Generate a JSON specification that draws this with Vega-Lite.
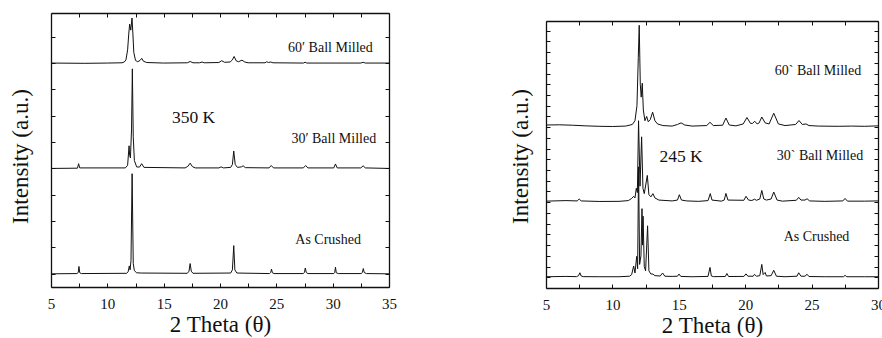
{
  "$schema": "https://vega.github.io/schema/vega-lite/v6.json",
  "padding": {"left": 9, "top": 12, "right": 0, "bottom": 0},
  "spacing": 112,
  "config": {
    "font": "Liberation Serif",
    "view": {"stroke": null},
    "axis": {
      "grid": false,
      "domainColor": "#111",
      "domainWidth": 1.3,
      "tickColor": "#111",
      "tickWidth": 1,
      "tickSize": -4,
      "labelFont": "Liberation Serif",
      "labelFontSize": 15,
      "labelColor": "#111",
      "labelFlush": false,
      "labelOverlap": false,
      "titleFont": "Liberation Serif",
      "titleFontSize": 23,
      "titleFontWeight": "normal",
      "titleColor": "#111"
    }
  },
  "datasets": {
    "xrd350": [
      {"sample": "As Crushed", "theta": 5.0, "intensity": 0.0},
      {"sample": "As Crushed", "theta": 7.3, "intensity": 0.01},
      {"sample": "As Crushed", "theta": 7.42, "intensity": 0.05},
      {"sample": "As Crushed", "theta": 7.48, "intensity": 0.28},
      {"sample": "As Crushed", "theta": 7.55, "intensity": 0.04},
      {"sample": "As Crushed", "theta": 7.7, "intensity": 0.01},
      {"sample": "As Crushed", "theta": 11.7, "intensity": 0.02},
      {"sample": "As Crushed", "theta": 11.85, "intensity": 0.08},
      {"sample": "As Crushed", "theta": 11.95, "intensity": 0.3},
      {"sample": "As Crushed", "theta": 12.02, "intensity": 0.15},
      {"sample": "As Crushed", "theta": 12.1, "intensity": 0.5},
      {"sample": "As Crushed", "theta": 12.2, "intensity": 3.8},
      {"sample": "As Crushed", "theta": 12.3, "intensity": 0.4},
      {"sample": "As Crushed", "theta": 12.4, "intensity": 0.12},
      {"sample": "As Crushed", "theta": 12.6, "intensity": 0.04},
      {"sample": "As Crushed", "theta": 13.0, "intensity": 0.03},
      {"sample": "As Crushed", "theta": 17.1, "intensity": 0.02},
      {"sample": "As Crushed", "theta": 17.25, "intensity": 0.1},
      {"sample": "As Crushed", "theta": 17.35, "intensity": 0.39},
      {"sample": "As Crushed", "theta": 17.45, "intensity": 0.1},
      {"sample": "As Crushed", "theta": 17.6, "intensity": 0.02},
      {"sample": "As Crushed", "theta": 20.95, "intensity": 0.03},
      {"sample": "As Crushed", "theta": 21.1, "intensity": 0.15},
      {"sample": "As Crushed", "theta": 21.22, "intensity": 1.07},
      {"sample": "As Crushed", "theta": 21.32, "intensity": 0.15},
      {"sample": "As Crushed", "theta": 21.5, "intensity": 0.03},
      {"sample": "As Crushed", "theta": 24.4, "intensity": 0.01},
      {"sample": "As Crushed", "theta": 24.5, "intensity": 0.05},
      {"sample": "As Crushed", "theta": 24.57, "intensity": 0.18},
      {"sample": "As Crushed", "theta": 24.65, "intensity": 0.04},
      {"sample": "As Crushed", "theta": 24.8, "intensity": 0.01},
      {"sample": "As Crushed", "theta": 27.4, "intensity": 0.01},
      {"sample": "As Crushed", "theta": 27.5, "intensity": 0.06},
      {"sample": "As Crushed", "theta": 27.57, "intensity": 0.22},
      {"sample": "As Crushed", "theta": 27.66, "intensity": 0.05},
      {"sample": "As Crushed", "theta": 27.8, "intensity": 0.01},
      {"sample": "As Crushed", "theta": 30.1, "intensity": 0.01},
      {"sample": "As Crushed", "theta": 30.18, "intensity": 0.05},
      {"sample": "As Crushed", "theta": 30.25, "intensity": 0.25},
      {"sample": "As Crushed", "theta": 30.32, "intensity": 0.04},
      {"sample": "As Crushed", "theta": 30.5, "intensity": 0.01},
      {"sample": "As Crushed", "theta": 32.55, "intensity": 0.01},
      {"sample": "As Crushed", "theta": 32.64, "intensity": 0.06},
      {"sample": "As Crushed", "theta": 32.72, "intensity": 0.2},
      {"sample": "As Crushed", "theta": 32.8, "intensity": 0.05},
      {"sample": "As Crushed", "theta": 33.0, "intensity": 0.01},
      {"sample": "As Crushed", "theta": 35.0, "intensity": 0.0},

      {"sample": "30′ Ball Milled", "theta": 5.0, "intensity": 4.0},
      {"sample": "30′ Ball Milled", "theta": 7.35, "intensity": 4.01},
      {"sample": "30′ Ball Milled", "theta": 7.45, "intensity": 4.18},
      {"sample": "30′ Ball Milled", "theta": 7.55, "intensity": 4.02},
      {"sample": "30′ Ball Milled", "theta": 11.6, "intensity": 4.02},
      {"sample": "30′ Ball Milled", "theta": 11.8, "intensity": 4.12},
      {"sample": "30′ Ball Milled", "theta": 11.93, "intensity": 4.86},
      {"sample": "30′ Ball Milled", "theta": 11.98, "intensity": 4.5},
      {"sample": "30′ Ball Milled", "theta": 12.05, "intensity": 4.4},
      {"sample": "30′ Ball Milled", "theta": 12.15, "intensity": 5.5},
      {"sample": "30′ Ball Milled", "theta": 12.22, "intensity": 7.78},
      {"sample": "30′ Ball Milled", "theta": 12.3, "intensity": 5.2},
      {"sample": "30′ Ball Milled", "theta": 12.4, "intensity": 4.3},
      {"sample": "30′ Ball Milled", "theta": 12.6, "intensity": 4.06},
      {"sample": "30′ Ball Milled", "theta": 12.85, "intensity": 4.05},
      {"sample": "30′ Ball Milled", "theta": 13.05, "intensity": 4.18},
      {"sample": "30′ Ball Milled", "theta": 13.25, "intensity": 4.04},
      {"sample": "30′ Ball Milled", "theta": 16.9, "intensity": 4.02},
      {"sample": "30′ Ball Milled", "theta": 17.15, "intensity": 4.08},
      {"sample": "30′ Ball Milled", "theta": 17.35, "intensity": 4.2},
      {"sample": "30′ Ball Milled", "theta": 17.55, "intensity": 4.07},
      {"sample": "30′ Ball Milled", "theta": 17.8, "intensity": 4.02},
      {"sample": "30′ Ball Milled", "theta": 19.9, "intensity": 4.02},
      {"sample": "30′ Ball Milled", "theta": 20.1, "intensity": 4.06},
      {"sample": "30′ Ball Milled", "theta": 20.3, "intensity": 4.02},
      {"sample": "30′ Ball Milled", "theta": 20.95, "intensity": 4.04},
      {"sample": "30′ Ball Milled", "theta": 21.1, "intensity": 4.15},
      {"sample": "30′ Ball Milled", "theta": 21.22, "intensity": 4.66},
      {"sample": "30′ Ball Milled", "theta": 21.35, "intensity": 4.15},
      {"sample": "30′ Ball Milled", "theta": 21.55, "intensity": 4.04},
      {"sample": "30′ Ball Milled", "theta": 21.9, "intensity": 4.06},
      {"sample": "30′ Ball Milled", "theta": 22.05, "intensity": 4.1},
      {"sample": "30′ Ball Milled", "theta": 22.25, "intensity": 4.03},
      {"sample": "30′ Ball Milled", "theta": 24.35, "intensity": 4.02},
      {"sample": "30′ Ball Milled", "theta": 24.55, "intensity": 4.11},
      {"sample": "30′ Ball Milled", "theta": 24.75, "intensity": 4.02},
      {"sample": "30′ Ball Milled", "theta": 27.4, "intensity": 4.02},
      {"sample": "30′ Ball Milled", "theta": 27.6, "intensity": 4.11},
      {"sample": "30′ Ball Milled", "theta": 27.8, "intensity": 4.02},
      {"sample": "30′ Ball Milled", "theta": 30.1, "intensity": 4.02},
      {"sample": "30′ Ball Milled", "theta": 30.25, "intensity": 4.17},
      {"sample": "30′ Ball Milled", "theta": 30.4, "intensity": 4.02},
      {"sample": "30′ Ball Milled", "theta": 32.5, "intensity": 4.02},
      {"sample": "30′ Ball Milled", "theta": 32.7, "intensity": 4.1},
      {"sample": "30′ Ball Milled", "theta": 32.9, "intensity": 4.02},
      {"sample": "30′ Ball Milled", "theta": 35.0, "intensity": 4.0},

      {"sample": "60′ Ball Milled", "theta": 5.0, "intensity": 8.0},
      {"sample": "60′ Ball Milled", "theta": 8.0, "intensity": 7.99},
      {"sample": "60′ Ball Milled", "theta": 10.0, "intensity": 8.0},
      {"sample": "60′ Ball Milled", "theta": 11.3, "intensity": 8.01},
      {"sample": "60′ Ball Milled", "theta": 11.5, "intensity": 8.04},
      {"sample": "60′ Ball Milled", "theta": 11.65, "intensity": 8.12},
      {"sample": "60′ Ball Milled", "theta": 11.8, "intensity": 8.5},
      {"sample": "60′ Ball Milled", "theta": 11.9, "intensity": 9.1},
      {"sample": "60′ Ball Milled", "theta": 11.98, "intensity": 9.48},
      {"sample": "60′ Ball Milled", "theta": 12.08, "intensity": 9.25},
      {"sample": "60′ Ball Milled", "theta": 12.19, "intensity": 9.71},
      {"sample": "60′ Ball Milled", "theta": 12.27, "intensity": 9.1},
      {"sample": "60′ Ball Milled", "theta": 12.35, "intensity": 8.4},
      {"sample": "60′ Ball Milled", "theta": 12.5, "intensity": 8.1},
      {"sample": "60′ Ball Milled", "theta": 12.7, "intensity": 8.05},
      {"sample": "60′ Ball Milled", "theta": 12.9, "intensity": 8.1},
      {"sample": "60′ Ball Milled", "theta": 13.05, "intensity": 8.18},
      {"sample": "60′ Ball Milled", "theta": 13.2, "intensity": 8.07},
      {"sample": "60′ Ball Milled", "theta": 13.5, "intensity": 8.02},
      {"sample": "60′ Ball Milled", "theta": 15.0, "intensity": 8.0},
      {"sample": "60′ Ball Milled", "theta": 17.1, "intensity": 8.01},
      {"sample": "60′ Ball Milled", "theta": 17.35, "intensity": 8.06},
      {"sample": "60′ Ball Milled", "theta": 17.6, "intensity": 8.01},
      {"sample": "60′ Ball Milled", "theta": 18.2, "intensity": 8.01},
      {"sample": "60′ Ball Milled", "theta": 18.4, "intensity": 8.04},
      {"sample": "60′ Ball Milled", "theta": 18.6, "intensity": 8.01},
      {"sample": "60′ Ball Milled", "theta": 19.9, "intensity": 8.02},
      {"sample": "60′ Ball Milled", "theta": 20.15, "intensity": 8.09},
      {"sample": "60′ Ball Milled", "theta": 20.4, "intensity": 8.03},
      {"sample": "60′ Ball Milled", "theta": 20.9, "intensity": 8.04},
      {"sample": "60′ Ball Milled", "theta": 21.1, "intensity": 8.12},
      {"sample": "60′ Ball Milled", "theta": 21.25, "intensity": 8.25},
      {"sample": "60′ Ball Milled", "theta": 21.45, "intensity": 8.08},
      {"sample": "60′ Ball Milled", "theta": 21.65, "intensity": 8.05},
      {"sample": "60′ Ball Milled", "theta": 21.95, "intensity": 8.11},
      {"sample": "60′ Ball Milled", "theta": 22.2, "intensity": 8.04},
      {"sample": "60′ Ball Milled", "theta": 22.5, "intensity": 8.01},
      {"sample": "60′ Ball Milled", "theta": 24.0, "intensity": 8.01},
      {"sample": "60′ Ball Milled", "theta": 24.15, "intensity": 8.05},
      {"sample": "60′ Ball Milled", "theta": 24.3, "intensity": 8.02},
      {"sample": "60′ Ball Milled", "theta": 24.5, "intensity": 8.04},
      {"sample": "60′ Ball Milled", "theta": 24.7, "intensity": 8.01},
      {"sample": "60′ Ball Milled", "theta": 27.4, "intensity": 8.0},
      {"sample": "60′ Ball Milled", "theta": 27.55, "intensity": 8.03},
      {"sample": "60′ Ball Milled", "theta": 27.7, "intensity": 8.0},
      {"sample": "60′ Ball Milled", "theta": 32.5, "intensity": 8.0},
      {"sample": "60′ Ball Milled", "theta": 32.7, "intensity": 8.03},
      {"sample": "60′ Ball Milled", "theta": 32.9, "intensity": 8.0},
      {"sample": "60′ Ball Milled", "theta": 35.0, "intensity": 8.0}
    ],
    "xrd245": [
      {"sample": "As Crushed", "theta": 5.0, "intensity": 0.05},
      {"sample": "As Crushed", "theta": 6.5, "intensity": 0.08},
      {"sample": "As Crushed", "theta": 7.3, "intensity": 0.06},
      {"sample": "As Crushed", "theta": 7.45, "intensity": 0.15},
      {"sample": "As Crushed", "theta": 7.55, "intensity": 0.42},
      {"sample": "As Crushed", "theta": 7.65, "intensity": 0.12},
      {"sample": "As Crushed", "theta": 7.8, "intensity": 0.06},
      {"sample": "As Crushed", "theta": 9.0, "intensity": 0.05},
      {"sample": "As Crushed", "theta": 10.5, "intensity": 0.05},
      {"sample": "As Crushed", "theta": 11.3, "intensity": 0.1},
      {"sample": "As Crushed", "theta": 11.45, "intensity": 0.25},
      {"sample": "As Crushed", "theta": 11.6, "intensity": 1.05},
      {"sample": "As Crushed", "theta": 11.7, "intensity": 0.4},
      {"sample": "As Crushed", "theta": 11.83, "intensity": 1.95},
      {"sample": "As Crushed", "theta": 11.9, "intensity": 0.8},
      {"sample": "As Crushed", "theta": 11.97, "intensity": 10.3},
      {"sample": "As Crushed", "theta": 12.05, "intensity": 1.2},
      {"sample": "As Crushed", "theta": 12.15, "intensity": 2.0},
      {"sample": "As Crushed", "theta": 12.23, "intensity": 6.4},
      {"sample": "As Crushed", "theta": 12.27, "intensity": 3.0},
      {"sample": "As Crushed", "theta": 12.31, "intensity": 5.7},
      {"sample": "As Crushed", "theta": 12.4, "intensity": 1.0},
      {"sample": "As Crushed", "theta": 12.5, "intensity": 0.6},
      {"sample": "As Crushed", "theta": 12.65, "intensity": 4.8},
      {"sample": "As Crushed", "theta": 12.75, "intensity": 0.6},
      {"sample": "As Crushed", "theta": 12.9, "intensity": 0.3},
      {"sample": "As Crushed", "theta": 13.05, "intensity": 0.3},
      {"sample": "As Crushed", "theta": 13.2, "intensity": 0.15},
      {"sample": "As Crushed", "theta": 13.6, "intensity": 0.12},
      {"sample": "As Crushed", "theta": 13.78, "intensity": 0.4},
      {"sample": "As Crushed", "theta": 13.95, "intensity": 0.1},
      {"sample": "As Crushed", "theta": 14.5, "intensity": 0.08},
      {"sample": "As Crushed", "theta": 14.9, "intensity": 0.1},
      {"sample": "As Crushed", "theta": 15.02, "intensity": 0.3},
      {"sample": "As Crushed", "theta": 15.15, "intensity": 0.08},
      {"sample": "As Crushed", "theta": 16.0, "intensity": 0.05},
      {"sample": "As Crushed", "theta": 17.2, "intensity": 0.08},
      {"sample": "As Crushed", "theta": 17.35, "intensity": 0.92},
      {"sample": "As Crushed", "theta": 17.45, "intensity": 0.12},
      {"sample": "As Crushed", "theta": 17.6, "intensity": 0.06},
      {"sample": "As Crushed", "theta": 18.5, "intensity": 0.07},
      {"sample": "As Crushed", "theta": 18.62, "intensity": 0.35},
      {"sample": "As Crushed", "theta": 18.75, "intensity": 0.07},
      {"sample": "As Crushed", "theta": 19.9, "intensity": 0.08},
      {"sample": "As Crushed", "theta": 20.06, "intensity": 0.32},
      {"sample": "As Crushed", "theta": 20.2, "intensity": 0.1},
      {"sample": "As Crushed", "theta": 20.6, "intensity": 0.1},
      {"sample": "As Crushed", "theta": 20.7, "intensity": 0.27},
      {"sample": "As Crushed", "theta": 20.85, "intensity": 0.1},
      {"sample": "As Crushed", "theta": 21.1, "intensity": 0.15},
      {"sample": "As Crushed", "theta": 21.25, "intensity": 1.2},
      {"sample": "As Crushed", "theta": 21.35, "intensity": 0.25},
      {"sample": "As Crushed", "theta": 21.5, "intensity": 0.45},
      {"sample": "As Crushed", "theta": 21.6, "intensity": 0.12},
      {"sample": "As Crushed", "theta": 21.95, "intensity": 0.15},
      {"sample": "As Crushed", "theta": 22.15, "intensity": 0.65},
      {"sample": "As Crushed", "theta": 22.35, "intensity": 0.1},
      {"sample": "As Crushed", "theta": 23.0, "intensity": 0.05},
      {"sample": "As Crushed", "theta": 23.9, "intensity": 0.1},
      {"sample": "As Crushed", "theta": 24.03, "intensity": 0.42},
      {"sample": "As Crushed", "theta": 24.2, "intensity": 0.1},
      {"sample": "As Crushed", "theta": 24.5, "intensity": 0.1},
      {"sample": "As Crushed", "theta": 24.66, "intensity": 0.28},
      {"sample": "As Crushed", "theta": 24.8, "intensity": 0.07},
      {"sample": "As Crushed", "theta": 26.0, "intensity": 0.05},
      {"sample": "As Crushed", "theta": 27.4, "intensity": 0.05},
      {"sample": "As Crushed", "theta": 27.52, "intensity": 0.18},
      {"sample": "As Crushed", "theta": 27.65, "intensity": 0.05},
      {"sample": "As Crushed", "theta": 29.0, "intensity": 0.05},
      {"sample": "As Crushed", "theta": 30.0, "intensity": 0.05},

      {"sample": "30` Ball Milled", "theta": 5.0, "intensity": 7.1},
      {"sample": "30` Ball Milled", "theta": 6.5, "intensity": 7.15},
      {"sample": "30` Ball Milled", "theta": 7.35, "intensity": 7.12},
      {"sample": "30` Ball Milled", "theta": 7.5, "intensity": 7.3},
      {"sample": "30` Ball Milled", "theta": 7.65, "intensity": 7.12},
      {"sample": "30` Ball Milled", "theta": 9.0, "intensity": 7.07},
      {"sample": "30` Ball Milled", "theta": 10.5, "intensity": 7.08},
      {"sample": "30` Ball Milled", "theta": 11.2, "intensity": 7.15},
      {"sample": "30` Ball Milled", "theta": 11.45, "intensity": 7.35},
      {"sample": "30` Ball Milled", "theta": 11.6, "intensity": 7.55},
      {"sample": "30` Ball Milled", "theta": 11.7, "intensity": 7.4},
      {"sample": "30` Ball Milled", "theta": 11.8, "intensity": 8.3},
      {"sample": "30` Ball Milled", "theta": 11.88, "intensity": 7.9},
      {"sample": "30` Ball Milled", "theta": 11.97, "intensity": 14.6},
      {"sample": "30` Ball Milled", "theta": 12.08, "intensity": 8.5},
      {"sample": "30` Ball Milled", "theta": 12.2, "intensity": 13.1},
      {"sample": "30` Ball Milled", "theta": 12.3, "intensity": 8.3},
      {"sample": "30` Ball Milled", "theta": 12.4, "intensity": 7.8},
      {"sample": "30` Ball Milled", "theta": 12.63, "intensity": 9.5},
      {"sample": "30` Ball Milled", "theta": 12.75, "intensity": 7.7},
      {"sample": "30` Ball Milled", "theta": 12.9, "intensity": 7.5},
      {"sample": "30` Ball Milled", "theta": 13.05, "intensity": 7.8},
      {"sample": "30` Ball Milled", "theta": 13.2, "intensity": 7.4},
      {"sample": "30` Ball Milled", "theta": 13.5, "intensity": 7.2},
      {"sample": "30` Ball Milled", "theta": 14.5, "intensity": 7.12},
      {"sample": "30` Ball Milled", "theta": 14.9, "intensity": 7.2},
      {"sample": "30` Ball Milled", "theta": 15.04, "intensity": 7.7},
      {"sample": "30` Ball Milled", "theta": 15.2, "intensity": 7.2},
      {"sample": "30` Ball Milled", "theta": 15.6, "intensity": 7.12},
      {"sample": "30` Ball Milled", "theta": 16.5, "intensity": 7.08},
      {"sample": "30` Ball Milled", "theta": 17.2, "intensity": 7.15},
      {"sample": "30` Ball Milled", "theta": 17.37, "intensity": 7.8},
      {"sample": "30` Ball Milled", "theta": 17.5, "intensity": 7.2},
      {"sample": "30` Ball Milled", "theta": 18.2, "intensity": 7.1},
      {"sample": "30` Ball Milled", "theta": 18.42, "intensity": 7.2},
      {"sample": "30` Ball Milled", "theta": 18.55, "intensity": 7.82},
      {"sample": "30` Ball Milled", "theta": 18.7, "intensity": 7.2},
      {"sample": "30` Ball Milled", "theta": 19.9, "intensity": 7.18},
      {"sample": "30` Ball Milled", "theta": 20.06, "intensity": 7.55},
      {"sample": "30` Ball Milled", "theta": 20.25, "intensity": 7.2},
      {"sample": "30` Ball Milled", "theta": 20.5, "intensity": 7.16},
      {"sample": "30` Ball Milled", "theta": 20.7, "intensity": 7.28},
      {"sample": "30` Ball Milled", "theta": 20.85, "intensity": 7.18},
      {"sample": "30` Ball Milled", "theta": 21.1, "intensity": 7.3},
      {"sample": "30` Ball Milled", "theta": 21.25, "intensity": 8.1},
      {"sample": "30` Ball Milled", "theta": 21.4, "intensity": 7.3},
      {"sample": "30` Ball Milled", "theta": 21.6, "intensity": 7.2},
      {"sample": "30` Ball Milled", "theta": 21.95, "intensity": 7.3},
      {"sample": "30` Ball Milled", "theta": 22.15, "intensity": 7.95},
      {"sample": "30` Ball Milled", "theta": 22.4, "intensity": 7.2},
      {"sample": "30` Ball Milled", "theta": 22.8, "intensity": 7.1},
      {"sample": "30` Ball Milled", "theta": 23.85, "intensity": 7.18},
      {"sample": "30` Ball Milled", "theta": 24.03, "intensity": 7.45},
      {"sample": "30` Ball Milled", "theta": 24.2, "intensity": 7.2},
      {"sample": "30` Ball Milled", "theta": 24.5, "intensity": 7.2},
      {"sample": "30` Ball Milled", "theta": 24.66, "intensity": 7.32},
      {"sample": "30` Ball Milled", "theta": 24.85, "intensity": 7.12},
      {"sample": "30` Ball Milled", "theta": 26.0, "intensity": 7.08},
      {"sample": "30` Ball Milled", "theta": 27.35, "intensity": 7.12},
      {"sample": "30` Ball Milled", "theta": 27.52, "intensity": 7.35},
      {"sample": "30` Ball Milled", "theta": 27.7, "intensity": 7.1},
      {"sample": "30` Ball Milled", "theta": 29.0, "intensity": 7.1},
      {"sample": "30` Ball Milled", "theta": 30.0, "intensity": 7.12},

      {"sample": "60` Ball Milled", "theta": 5.0, "intensity": 14.2},
      {"sample": "60` Ball Milled", "theta": 6.0, "intensity": 14.22},
      {"sample": "60` Ball Milled", "theta": 7.0, "intensity": 14.18},
      {"sample": "60` Ball Milled", "theta": 8.0, "intensity": 14.12},
      {"sample": "60` Ball Milled", "theta": 9.0, "intensity": 14.08},
      {"sample": "60` Ball Milled", "theta": 10.0, "intensity": 14.06},
      {"sample": "60` Ball Milled", "theta": 11.0, "intensity": 14.1},
      {"sample": "60` Ball Milled", "theta": 11.5, "intensity": 14.25},
      {"sample": "60` Ball Milled", "theta": 11.7, "intensity": 14.6},
      {"sample": "60` Ball Milled", "theta": 11.85, "intensity": 16.0},
      {"sample": "60` Ball Milled", "theta": 11.95, "intensity": 20.5},
      {"sample": "60` Ball Milled", "theta": 12.02, "intensity": 23.5},
      {"sample": "60` Ball Milled", "theta": 12.1, "intensity": 18.0},
      {"sample": "60` Ball Milled", "theta": 12.17, "intensity": 16.8},
      {"sample": "60` Ball Milled", "theta": 12.25, "intensity": 18.1},
      {"sample": "60` Ball Milled", "theta": 12.33, "intensity": 15.6},
      {"sample": "60` Ball Milled", "theta": 12.45, "intensity": 14.6},
      {"sample": "60` Ball Milled", "theta": 12.58, "intensity": 15.0},
      {"sample": "60` Ball Milled", "theta": 12.7, "intensity": 14.5},
      {"sample": "60` Ball Milled", "theta": 12.85, "intensity": 14.7},
      {"sample": "60` Ball Milled", "theta": 13.03, "intensity": 15.4},
      {"sample": "60` Ball Milled", "theta": 13.2, "intensity": 14.6},
      {"sample": "60` Ball Milled", "theta": 13.4, "intensity": 14.3},
      {"sample": "60` Ball Milled", "theta": 13.8, "intensity": 14.15},
      {"sample": "60` Ball Milled", "theta": 14.5, "intensity": 14.1},
      {"sample": "60` Ball Milled", "theta": 14.9, "intensity": 14.25},
      {"sample": "60` Ball Milled", "theta": 15.17, "intensity": 14.4},
      {"sample": "60` Ball Milled", "theta": 15.45, "intensity": 14.2},
      {"sample": "60` Ball Milled", "theta": 16.0, "intensity": 14.1},
      {"sample": "60` Ball Milled", "theta": 17.1, "intensity": 14.15},
      {"sample": "60` Ball Milled", "theta": 17.35, "intensity": 14.45},
      {"sample": "60` Ball Milled", "theta": 17.6, "intensity": 14.15},
      {"sample": "60` Ball Milled", "theta": 18.3, "intensity": 14.18},
      {"sample": "60` Ball Milled", "theta": 18.55, "intensity": 14.85},
      {"sample": "60` Ball Milled", "theta": 18.8, "intensity": 14.2},
      {"sample": "60` Ball Milled", "theta": 19.3, "intensity": 14.12},
      {"sample": "60` Ball Milled", "theta": 19.85, "intensity": 14.3},
      {"sample": "60` Ball Milled", "theta": 20.13, "intensity": 14.9},
      {"sample": "60` Ball Milled", "theta": 20.4, "intensity": 14.35},
      {"sample": "60` Ball Milled", "theta": 20.55, "intensity": 14.35},
      {"sample": "60` Ball Milled", "theta": 20.72, "intensity": 14.55},
      {"sample": "60` Ball Milled", "theta": 20.9, "intensity": 14.3},
      {"sample": "60` Ball Milled", "theta": 21.05, "intensity": 14.4},
      {"sample": "60` Ball Milled", "theta": 21.25, "intensity": 14.95},
      {"sample": "60` Ball Milled", "theta": 21.5, "intensity": 14.4},
      {"sample": "60` Ball Milled", "theta": 21.8, "intensity": 14.3},
      {"sample": "60` Ball Milled", "theta": 22.15, "intensity": 15.3},
      {"sample": "60` Ball Milled", "theta": 22.5, "intensity": 14.3},
      {"sample": "60` Ball Milled", "theta": 23.0, "intensity": 14.15},
      {"sample": "60` Ball Milled", "theta": 23.8, "intensity": 14.25},
      {"sample": "60` Ball Milled", "theta": 24.05, "intensity": 14.62},
      {"sample": "60` Ball Milled", "theta": 24.3, "intensity": 14.25},
      {"sample": "60` Ball Milled", "theta": 24.58, "intensity": 14.3},
      {"sample": "60` Ball Milled", "theta": 24.8, "intensity": 14.15},
      {"sample": "60` Ball Milled", "theta": 25.5, "intensity": 14.1},
      {"sample": "60` Ball Milled", "theta": 27.0, "intensity": 14.08},
      {"sample": "60` Ball Milled", "theta": 28.0, "intensity": 14.1},
      {"sample": "60` Ball Milled", "theta": 29.0, "intensity": 14.08},
      {"sample": "60` Ball Milled", "theta": 30.0, "intensity": 14.12}
    ],
    "names350": [
      {"theta": 29.8, "intensity": 8.59, "label": "60′ Ball Milled"},
      {"theta": 30.1, "intensity": 5.11, "label": "30′ Ball Milled"},
      {"theta": 29.6, "intensity": 1.27, "label": "As Crushed"}
    ],
    "names245": [
      {"theta": 25.48, "intensity": 19.2, "label": "60` Ball Milled"},
      {"theta": 25.63, "intensity": 11.3, "label": "30` Ball Milled"},
      {"theta": 25.37, "intensity": 3.72, "label": "As Crushed"}
    ]
  },
  "hconcat": [
    {
      "width": 338,
      "height": 274,
      "data": {"name": "xrd350"},
      "layer": [
        {
          "mark": {"type": "line", "color": "#111", "strokeWidth": 1, "clip": true},
          "encoding": {
            "x": {
              "field": "theta", "type": "quantitative",
              "scale": {"domain": [5, 35], "nice": false, "zero": false},
              "axis": {
                "orient": "bottom", "title": "2 Theta (θ)",
                "values": [5, 7.5, 10, 12.5, 15, 17.5, 20, 22.5, 25, 27.5, 30, 32.5, 35],
                "labelExpr": "datum.value % 5 === 0 ? datum.label : ''",
                "labelPadding": 13, "titlePadding": 2
              }
            },
            "y": {
              "field": "intensity", "type": "quantitative",
              "scale": {"domain": [-0.5, 9.9], "nice": false, "zero": false},
              "axis": {
                "orient": "left", "title": "Intensity (a.u.)", "labels": false,
                "values": [0, 1, 2, 3, 4, 5, 6, 7, 8, 9],
                "titlePadding": 18, "titleY": 143
              }
            },
            "detail": {"field": "sample"}
          }
        },
        {
          "data": {"name": "names350"},
          "mark": {"type": "text", "fontSize": 14, "color": "#111", "align": "center", "baseline": "middle"},
          "encoding": {
            "x": {
              "field": "theta", "type": "quantitative",
              "axis": {
                "orient": "top", "title": null, "labels": false,
                "values": [5, 7.5, 10, 12.5, 15, 17.5, 20, 22.5, 25, 27.5, 30, 32.5, 35]
              }
            },
            "y": {
              "field": "intensity", "type": "quantitative",
              "axis": {"orient": "right", "title": null, "labels": false, "values": [0, 1, 2, 3, 4, 5, 6, 7, 8, 9]}
            },
            "text": {"field": "label"}
          }
        },
        {
          "data": {"values": [{"theta": 17.65, "intensity": 5.91, "label": "350 K"}]},
          "mark": {"type": "text", "fontSize": 17.5, "color": "#111", "align": "center", "baseline": "middle"},
          "encoding": {
            "x": {"field": "theta", "type": "quantitative", "axis": null},
            "y": {"field": "intensity", "type": "quantitative", "axis": null},
            "text": {"field": "label"}
          }
        }
      ],
      "resolve": {"axis": {"x": "independent", "y": "independent"}}
    },
    {
      "width": 332,
      "height": 275,
      "data": {"name": "xrd245"},
      "layer": [
        {
          "mark": {"type": "line", "color": "#111", "strokeWidth": 1, "clip": true},
          "encoding": {
            "x": {
              "field": "theta", "type": "quantitative",
              "scale": {"domain": [5, 30], "nice": false, "zero": false},
              "axis": {
                "orient": "bottom", "title": "2 Theta (θ)",
                "values": [5, 7.5, 10, 12.5, 15, 17.5, 20, 22.5, 25, 27.5, 30],
                "labelExpr": "datum.value % 5 === 0 ? datum.label : ''",
                "labelPadding": 13, "titlePadding": 2
              }
            },
            "y": {
              "field": "intensity", "type": "quantitative",
              "scale": {"domain": [-1.0, 23.9], "nice": false, "zero": false, "range": [275, 8]},
              "axis": {
                "orient": "left", "title": "Intensity (a.u.)", "labels": false,
                "values": [0, 1, 2, 3, 4, 5, 6, 7, 8, 9, 10, 11, 12, 13, 14, 15, 16, 17, 18, 19, 20, 21, 22, 23],
                "titlePadding": 13, "titleY": 143
              }
            },
            "detail": {"field": "sample"}
          }
        },
        {
          "data": {"name": "names245"},
          "mark": {"type": "text", "fontSize": 14, "color": "#111", "align": "center", "baseline": "middle"},
          "encoding": {
            "x": {
              "field": "theta", "type": "quantitative",
              "axis": {
                "orient": "top", "title": null, "labels": false, "offset": -8,
                "values": [5, 7.5, 10, 12.5, 15, 17.5, 20, 22.5, 25, 27.5, 30]
              }
            },
            "y": {
              "field": "intensity", "type": "quantitative",
              "axis": {
                "orient": "right", "title": null, "labels": false,
                "values": [0, 1, 2, 3, 4, 5, 6, 7, 8, 9, 10, 11, 12, 13, 14, 15, 16, 17, 18, 19, 20, 21, 22, 23]
              }
            },
            "text": {"field": "label"}
          }
        },
        {
          "data": {"values": [{"theta": 15.17, "intensity": 11.26, "label": "245 K"}]},
          "mark": {"type": "text", "fontSize": 17.5, "color": "#111", "align": "center", "baseline": "middle"},
          "encoding": {
            "x": {"field": "theta", "type": "quantitative", "axis": null},
            "y": {"field": "intensity", "type": "quantitative", "axis": null},
            "text": {"field": "label"}
          }
        }
      ],
      "resolve": {"axis": {"x": "independent", "y": "independent"}}
    }
  ]
}
